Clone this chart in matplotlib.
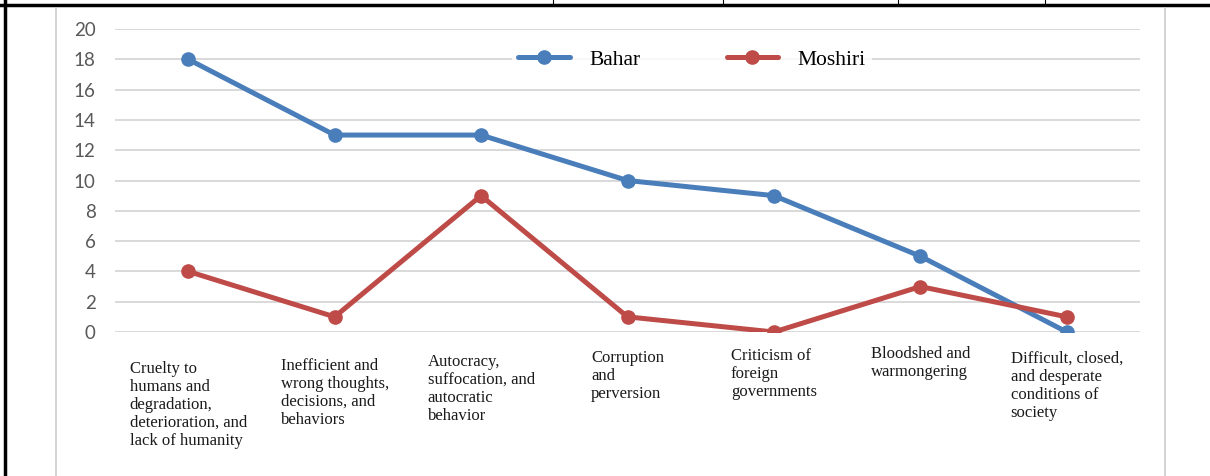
import matplotlib
matplotlib.use("Agg")
import matplotlib.pyplot as plt
from matplotlib.lines import Line2D
from matplotlib.transforms import offset_copy

categories = [
    "Cruelty to\nhumans and\ndegradation,\ndeterioration, and\nlack of humanity",
    "Inefficient and\nwrong thoughts,\ndecisions, and\nbehaviors",
    "Autocracy,\nsuffocation, and\nautocratic\nbehavior",
    "Corruption\nand\nperversion",
    "Criticism of\nforeign\ngovernments",
    "Bloodshed and\nwarmongering",
    "Difficult, closed,\nand desperate\nconditions of\nsociety",
]
bahar = [18, 13, 13, 10, 9, 5, 0]
moshiri = [4, 1, 9, 1, 0, 3, 1]
yticks = list(range(0, 21, 2))

# label drop below the axis (pixels), staggered like the source
label_drop = [29, 26, 22, 18, 16, 14, 19]

BLUE = "#4A7EBB"
RED = "#BE4B48"
SERIF = ["Liberation Serif", "DejaVu Serif"]

fig = plt.figure(figsize=(12.1, 4.76), dpi=100)
ax = fig.add_axes([115 / 1210, 1 - 332 / 476, 1025 / 1210, 303 / 476])

x = list(range(len(categories)))
ax.plot(x, bahar, color=BLUE, lw=3.6, marker="o", ms=9.5, label="Bahar",
        solid_capstyle="round", zorder=3)
ax.plot(x, moshiri, color=RED, lw=3.6, marker="o", ms=9.5, label="Moshiri",
        solid_capstyle="round", zorder=3)

ax.set_xlim(-0.5, len(categories) - 0.5)
ax.set_ylim(0, 20)
ax.set_yticks(yticks)
ax.set_yticklabels([str(v) for v in yticks], fontsize=13.5, color="#595959",
                   family=["Lato", "DejaVu Sans"])
ax.tick_params(axis="y", length=0, pad=14)
ax.set_xticks([])
ax.grid(axis="y", color="#D9D9D9", lw=1.4)
ax.set_axisbelow(True)
for s in ax.spines.values():
    s.set_visible(False)
ax.patch.set_alpha(0)

# category labels under the axis
for i, (lab, d) in enumerate(zip(categories, label_drop)):
    tr = offset_copy(ax.get_xaxis_transform(), fig=fig, x=0, y=-d, units="dots")
    ax.text(i, 0, lab, transform=tr, ha="center", va="top", multialignment="left",
            fontsize=12, family=SERIF, color="#1a1a1a", linespacing=1.17)

leg = ax.legend(loc="center", bbox_to_anchor=(0.563, 0.898), ncol=2,
                frameon=True, prop={"family": SERIF, "size": 15.5},
                handlelength=2.4, columnspacing=4.0, handletextpad=0.9,
                borderpad=0.3)
leg.get_frame().set_edgecolor("none")
leg.get_frame().set_facecolor("white")

# surrounding table / chart frame
W, H = 1210, 476
def fline(xs, ys, **kw):
    fig.add_artist(Line2D([a / W for a in xs], [1 - b / H for b in ys], **kw))

fline([0, W], [4.5, 4.5], color="black", lw=2.5)
fline([5, 5], [0, H], color="black", lw=2.5)
for xv in [553, 723, 898, 1045]:
    fline([xv, xv], [0, 4], color="black", lw=0.8)
fline([56, 56], [8, H], color="#D0D0D0", lw=1.3)
fline([1165, 1165], [8, H], color="#D0D0D0", lw=1.3)

fig.savefig("out.png", dpi=100)
